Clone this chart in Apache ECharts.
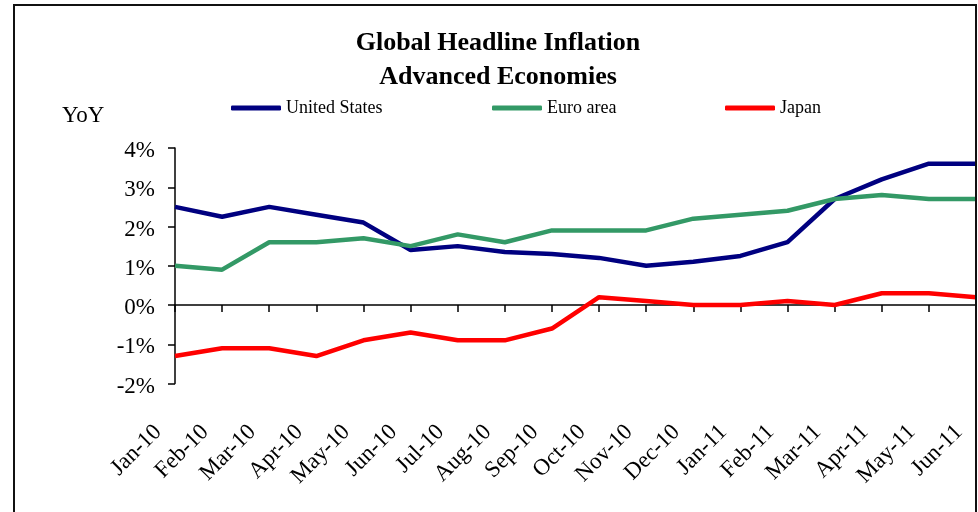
<!DOCTYPE html>
<html>
<head>
<meta charset="utf-8">
<script src="https://cdn.jsdelivr.net/npm/echarts@6/dist/echarts.min.js"></script>
<style>
  html, body { margin: 0; padding: 0; background: #fff; }
  #chart { width: 978px; height: 512px; }
</style>
</head>
<body>
<div id="chart"></div>
<script>
// Monthly year-on-year headline CPI, in percent
const categories = ['Jan-10', 'Feb-10', 'Mar-10', 'Apr-10', 'May-10', 'Jun-10', 'Jul-10', 'Aug-10', 'Sep-10',
  'Oct-10', 'Nov-10', 'Dec-10', 'Jan-11', 'Feb-11', 'Mar-11', 'Apr-11', 'May-11', 'Jun-11'];
const unitedStates = [2.5, 2.25, 2.5, 2.3, 2.1, 1.4, 1.5, 1.35, 1.3, 1.2, 1.0, 1.1, 1.25, 1.6, 2.7, 3.2, 3.6, 3.6];
const euroArea = [1.0, 0.9, 1.6, 1.6, 1.7, 1.5, 1.8, 1.6, 1.9, 1.9, 1.9, 2.2, 2.3, 2.4, 2.7, 2.8, 2.7, 2.7];
const japan = [-1.3, -1.1, -1.1, -1.3, -0.9, -0.7, -0.9, -0.9, -0.6, 0.2, 0.1, 0.0, 0.0, 0.1, 0.0, 0.3, 0.3, 0.2];
const yTicks = { min: -2, max: 4, step: 1 };

const SERIF = '"Liberation Serif", "DejaVu Serif", serif';
const INK = '#000';

const chart = echarts.init(document.getElementById('chart'), null, { renderer: 'canvas' });

const plotLeft = 175;
const plotTop = 148;
const plotHeight = 235.5;
const plotWidth = 801;

function legendItem(name, left) {
  return {
    data: [name],
    left: left,
    top: 99,
    icon: 'roundRect',
    itemWidth: 50,
    itemHeight: 5,
    padding: 0,
    selectedMode: false,
    textStyle: { fontFamily: SERIF, fontSize: 18, color: INK }
  };
}

chart.setOption({
  animation: false,
  backgroundColor: '#fff',
  title: {
    text: 'Global Headline Inflation\nAdvanced Economies',
    left: 493,
    top: 21,
    textAlign: 'center',
    textStyle: {
      fontFamily: SERIF,
      fontSize: 26,
      fontWeight: 'bold',
      color: INK,
      lineHeight: 34
    }
  },
  legend: [
    legendItem('United States', 231),
    legendItem('Euro area', 492),
    legendItem('Japan', 725)
  ],
  graphic: [
    {
      type: 'rect',
      shape: { x: 14, y: 5, width: 962, height: 530 },
      style: { fill: 'none', stroke: '#111', lineWidth: 2 },
      silent: true,
      z: 100
    },
    {
      type: 'text',
      left: 62,
      top: 104,
      style: { text: 'YoY', fontFamily: SERIF, fontSize: 23, fill: INK }
    }
  ],
  grid: [
    // Plot area: lines, zero-based category axis and the value axis line
    { left: plotLeft, top: plotTop, width: plotWidth, height: plotHeight },
    // Month labels sit along the bottom edge, set slightly to the left of their ticks
    { left: plotLeft - 17, top: plotTop, width: plotWidth, height: plotHeight },
    // Percent labels sit a touch below their ticks
    { left: plotLeft, top: plotTop + 3, width: plotWidth, height: plotHeight }
  ],
  xAxis: [
    {
      gridIndex: 0,
      type: 'category',
      data: categories,
      boundaryGap: false,
      axisLine: { onZero: true, lineStyle: { color: INK, width: 1.5 } },
      axisTick: { show: true, interval: 0, inside: false, length: 7, lineStyle: { color: INK, width: 1.5 } },
      axisLabel: { show: false, interval: 0 },
      splitLine: { show: false }
    },
    {
      gridIndex: 1,
      type: 'category',
      data: categories,
      boundaryGap: false,
      position: 'bottom',
      axisLine: { show: false, onZero: false },
      axisTick: { show: false },
      axisLabel: {
        show: true,
        interval: 0,
        rotate: 45,
        margin: 45,
        fontFamily: SERIF,
        fontSize: 23,
        color: INK
      },
      splitLine: { show: false }
    },
    {
      gridIndex: 2,
      type: 'category',
      data: categories,
      show: false
    }
  ],
  yAxis: [
    {
      gridIndex: 0,
      type: 'value',
      min: yTicks.min,
      max: yTicks.max,
      interval: yTicks.step,
      axisLine: { show: true, lineStyle: { color: INK, width: 1.5 } },
      axisTick: { show: true, inside: false, length: 7, lineStyle: { color: INK, width: 1.5 } },
      axisLabel: { show: false },
      splitLine: { show: false }
    },
    {
      gridIndex: 1,
      type: 'value',
      min: yTicks.min,
      max: yTicks.max,
      interval: yTicks.step,
      show: false
    },
    {
      gridIndex: 2,
      type: 'value',
      min: yTicks.min,
      max: yTicks.max,
      interval: yTicks.step,
      axisLine: { show: false },
      axisTick: { show: false },
      axisLabel: {
        margin: 20,
        fontFamily: SERIF,
        fontSize: 23,
        color: INK,
        formatter: '{value}%'
      },
      splitLine: { show: false }
    }
  ],
  series: [
    {
      name: 'United States',
      type: 'line',
      xAxisIndex: 0,
      yAxisIndex: 0,
      data: unitedStates,
      symbol: 'none',
      color: '#000080',
      lineStyle: { width: 4.5, color: '#000080' }
    },
    {
      name: 'Euro area',
      type: 'line',
      xAxisIndex: 0,
      yAxisIndex: 0,
      data: euroArea,
      symbol: 'none',
      color: '#339966',
      lineStyle: { width: 4.5, color: '#339966' }
    },
    {
      name: 'Japan',
      type: 'line',
      xAxisIndex: 0,
      yAxisIndex: 0,
      data: japan,
      symbol: 'none',
      color: '#FF0000',
      lineStyle: { width: 4.5, color: '#FF0000' }
    }
  ]
});
</script>
</body>
</html>
